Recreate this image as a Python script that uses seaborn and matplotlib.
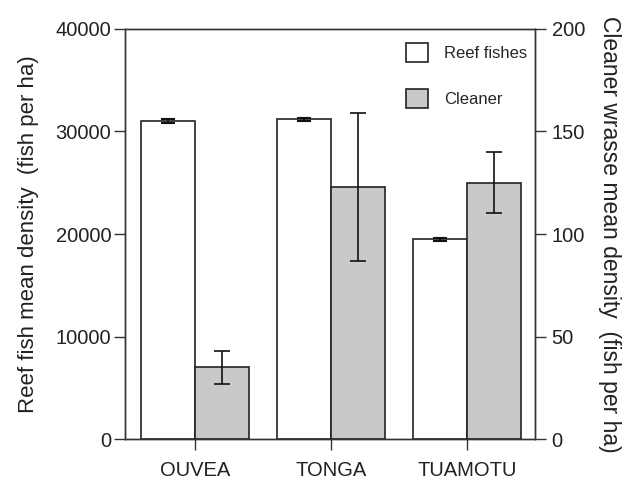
import numpy as np
import pandas as pd
import matplotlib
matplotlib.use("Agg")
import matplotlib.pyplot as plt
import seaborn as sns
from matplotlib.patches import Patch

sites = ["OUVEA", "TONGA", "TUAMOTU"]
reef_mean = [31000, 31200, 19500]
reef_err = [200, 150, 150]
cleaner_mean = [35, 123, 125]
cleaner_err = [8, 36, 15]
series = ["Reef fishes", "Cleaner"]

sns.set_style("ticks")
plt.rcParams["font.family"] = ["Liberation Sans", "DejaVu Sans"]

# long tables, the other series left empty so the dodge positions stay put
reef_df = pd.DataFrame({
    "site": sites * 2,
    "series": [series[0]] * 3 + [series[1]] * 3,
    "value": reef_mean + [np.nan] * 3,
})
clean_df = pd.DataFrame({
    "site": sites * 2,
    "series": [series[0]] * 3 + [series[1]] * 3,
    "value": [np.nan] * 3 + cleaner_mean,
})

fig = plt.figure(figsize=(6.35, 4.8), dpi=100)
ax = fig.add_axes([0.197, 0.0854, 0.6455, 0.8542])
ax2 = ax.twinx()

pal = {"Reef fishes": "white", "Cleaner": "#c9c9c9"}
sns.barplot(data=reef_df, x="site", y="value", hue="series", hue_order=series,
            order=sites, palette=pal, edgecolor="#222222", linewidth=1.2,
            errorbar=None, width=0.8, ax=ax, legend=False)
sns.barplot(data=clean_df, x="site", y="value", hue="series", hue_order=series,
            order=sites, palette=pal, edgecolor="#222222", linewidth=1.2,
            errorbar=None, width=0.8, ax=ax2, legend=False)

xs = np.arange(len(sites))
ax.errorbar(xs - 0.2, reef_mean, yerr=reef_err, fmt="none", ecolor="#111111",
            elinewidth=1.2, capsize=5, capthick=1.5)
ax2.errorbar(xs + 0.2, cleaner_mean, yerr=cleaner_err, fmt="none",
             ecolor="#111111", elinewidth=1.2, capsize=6, capthick=1.2)

ax.set_xlim(-0.515, 2.5)
ax.set_ylim(0, 40000)
ax2.set_ylim(0, 200)
ax.set_yticks([0, 10000, 20000, 30000, 40000])
ax2.set_yticks([0, 50, 100, 150, 200])

ax.set_xlabel("")
ax.set_ylabel("Reef fish mean density  (fish per ha)", fontsize=16, labelpad=12,
              color="#222222")
ax2.set_ylabel("Cleaner wrasse mean density  (fish per ha)", fontsize=16.5,
               rotation=270, labelpad=26, color="#222222")

for a in (ax, ax2):
    a.tick_params(axis="both", direction="out", length=8, width=1,
                  labelsize=14.5, colors="#333333", labelcolor="#222222")
    for s in a.spines.values():
        s.set_color("#333333")
        s.set_linewidth(1)
ax.tick_params(axis="y", pad=2)
ax2.tick_params(axis="y", pad=4)
ax.tick_params(axis="x", pad=8)
ax.set_xticks(xs)
ax.set_xticklabels(sites, fontsize=14.5)

handles = [Patch(facecolor=pal[s], edgecolor="#222222", linewidth=1.2) for s in series]
ax2.legend(handles, series, loc="upper right", bbox_to_anchor=(1.0, 0.985),
           frameon=False, fontsize=12, handlelength=1.3, handleheight=1.4,
           labelspacing=1.6, handletextpad=1.0, borderaxespad=0.05)

fig.savefig("out.png", dpi=100)
